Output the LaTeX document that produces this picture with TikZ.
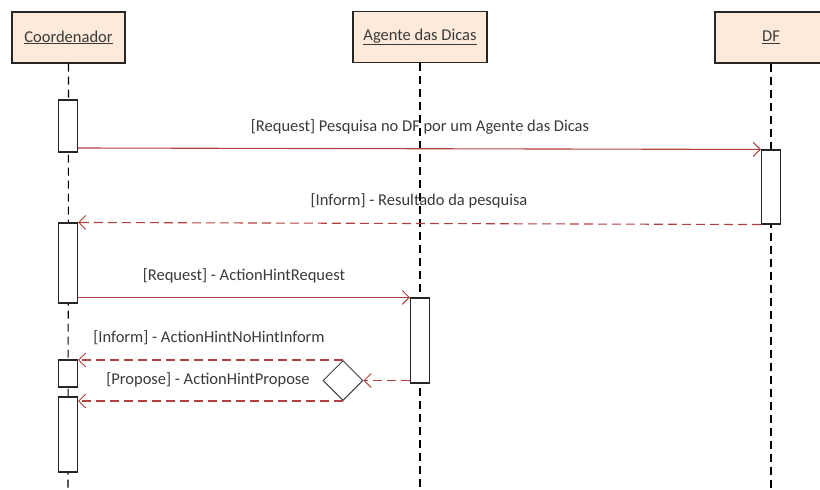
\documentclass[tikz,border=0pt]{standalone}
\usepackage{fontspec}
\setmainfont{Carlito}
\usetikzlibrary{arrows.meta,shapes.geometric}
\definecolor{msgred}{HTML}{B0413E}
\definecolor{actorfill}{HTML}{FDEADA}
\definecolor{txtgray}{HTML}{3A3A3A}
\tikzset{
  actor/.style={draw=black!85, fill=actorfill, line width=1.1pt, minimum width=113pt,
    minimum height=51pt, inner sep=0pt, font=\fontsize{16.5}{18}\selectfont, text=txtgray},
  act/.style={draw=black!85, fill=white, line width=1.1pt, minimum width=19pt, inner sep=0pt},
  lifeline/.style={draw=black, line width=1.1pt, dash pattern=on 8pt off 5pt},
  msg/.style={draw=msgred, line width=1.1pt, -{Straight Barb[length=7pt,width=14pt,line width=1pt]}},
  reply/.style={msg, dash pattern=on 9pt off 5pt},
  lbl/.style={font=\fontsize{16.5}{18}\selectfont, text=txtgray, inner sep=0pt},
  choice/.style={diamond, draw=black!75, line width=1pt, fill=white, minimum width=40pt,
    minimum height=40pt, inner sep=0pt}
}
\begin{document}
\begin{tikzpicture}[x=1pt,y=-1pt]
\useasboundingbox (0,0) rectangle (820,490);
\clip (0,0) rectangle (820,490);

% lifelines
\coordinate (cEnd) at (68,490);
\coordinate (gEnd) at (420,490);
\coordinate (dEnd) at (771,490);
\node[actor] (coord) at (68.5,37.5) {\underline{Coordenador}};
\node[actor, minimum width=134pt] (agente) at (420,37) {\underline{Agente das Dicas}};
\node[actor, minimum width=112pt] (df) at (771,37.5) {\underline{DF}};
\draw[lifeline] (coord.south) -- (cEnd);
\draw[lifeline] (agente.south) -- (gEnd);
\draw[lifeline] (df.south) -- (dEnd);

% activation bars
\node[act, minimum height=52pt] (a1) at (68,126) {};
\node[act, minimum height=74pt] (d1) at (771,187) {};
\node[act, minimum height=80pt] (a2) at (68,263) {};
\node[act, minimum height=85pt] (g1) at (420,340.5) {};
\node[act, minimum height=27pt] (a3) at (68,373.5) {};
\node[act, minimum height=75pt] (a4) at (68,434.5) {};
\node[choice] (dia) at (343,380.5) {};

% messages
\draw[msg] (a1.east |- 0,148) -- (d1.north west);
\draw[reply] (d1.south west) -- (a2.north east);
\draw[msg] (a2.east |- g1.north) -- (g1.north west);
\draw[reply] (g1.west |- dia.east) -- (dia.east);
\draw[reply] (dia.north) -- (a3.east |- dia.north);
\draw[reply] (dia.south) -- (a4.east |- dia.south);

% message labels
\node[lbl] (l1) at (420,127) {[Request] Pesquisa no DF por um Agente das Dicas};
\node[lbl] (l2) at (419,201) {[Inform] - Resultado da pesquisa};
\node[lbl] (l3) at (244,276) {[Request] - ActionHintRequest};
\node[lbl] (l4) at (209,338) {[Inform] - ActionHintNoHintInform};
\node[lbl] (l5) at (208,380) {[Propose] - ActionHintPropose};
\end{tikzpicture}
\end{document}
